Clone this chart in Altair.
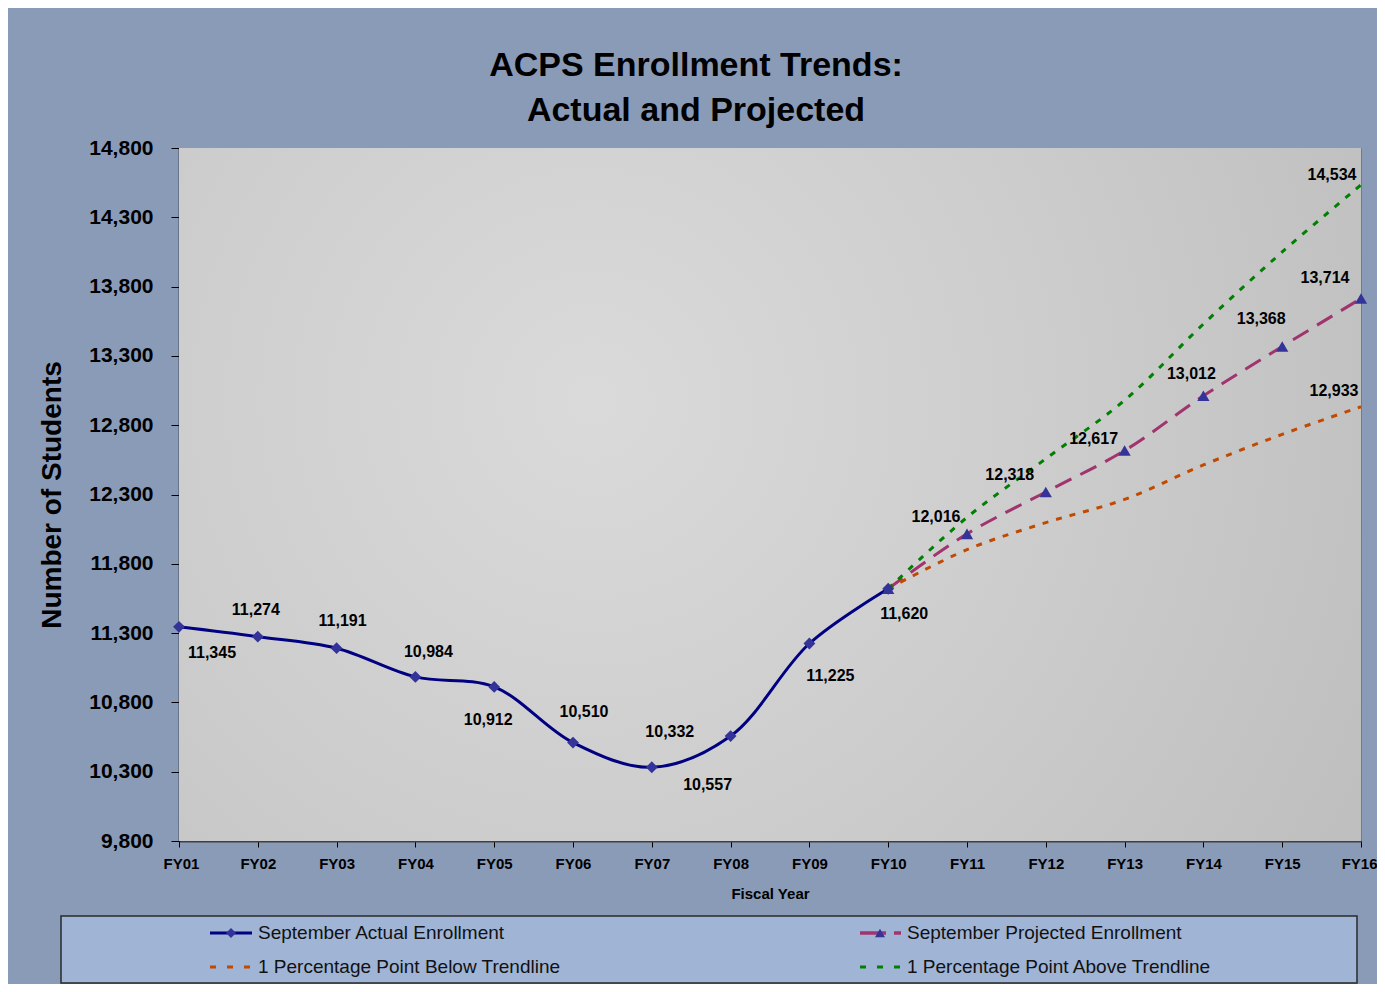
import altair as alt
import pandas as pd

# ---------------- data ----------------
years = ["FY01", "FY02", "FY03", "FY04", "FY05", "FY06", "FY07", "FY08",
         "FY09", "FY10", "FY11", "FY12", "FY13", "FY14", "FY15", "FY16"]

actual_years = years[:10]
actual = [11345, 11274, 11191, 10984, 10912, 10510, 10332, 10557, 11225, 11620]

proj_years = years[9:]
projected = [11620, 12016, 12318, 12617, 13012, 13368, 13714]
below = [11620, 11902, 12097, 12265, 12513, 12734, 12933]
above = [11620, 12135, 12558, 12980, 13530, 14050, 14534]

series_names = ["September Actual Enrollment",
                "September Projected Enrollment",
                "1 Percentage Point Below Trendline",
                "1 Percentage Point Above Trendline"]

y_ticks = [9800, 10300, 10800, 11300, 11800, 12300, 12800, 13300, 13800, 14300, 14800]

# labelled points: actual FY01-FY10, projected FY11-FY16, above & below FY16
label_years = actual_years + proj_years[1:] + [proj_years[-1], proj_years[-1]]
label_values = actual + projected[1:] + [above[-1], below[-1]]

# ---------------- styles ----------------
W, H = 1182, 693
FONT = "Liberation Sans"
C_ACTUAL = "#000080"
C_MARK = "#333399"
C_PROJ = "#A0346E"
C_BELOW = "#C04A00"
C_ABOVE = "#008000"
BG = "#8A9BB8"
LEGEND_BG = "#A0B4D6"

label_offsets = [(33, 26), (-2, -27), (6, -27), (13, -25), (-6, 33), (11, -31),
                 (18, -35), (-23, 49), (21, 33), (16, 25), (-31, -17), (-36, -17),
                 (-31, -12), (-12, -22), (-21, -27), (-36, -21), (-29, -10), (-27, -16)]

# ---------------- frames ----------------
df_actual = pd.DataFrame({"year": actual_years, "value": actual})
df_proj = pd.DataFrame({"year": proj_years, "value": projected})
df_below = pd.DataFrame({"year": proj_years, "value": below})
df_above = pd.DataFrame({"year": proj_years, "value": above})
df_labels = pd.DataFrame({"idx": list(range(len(label_years))),
                          "year": label_years, "value": label_values})
dummy = pd.DataFrame({"a": [0]})

x_enc = alt.X("year:N",
              scale=alt.Scale(domain=years, type="point", padding=0),
              axis=alt.Axis(title="Fiscal Year", labelAngle=0, labelFont=FONT,
                            labelFontSize=15, labelFontWeight="bold", labelColor="black",
                            labelPadding=9, labelFlush=True, labelFlushOffset=16,
                            tickSize=6, tickColor="black", tickWidth=1,
                            domainColor="#404040", domainWidth=2,
                            titleFont=FONT, titleFontSize=15, titleFontWeight="bold",
                            titleColor="black", titleY=52, titleBaseline="middle",
                            grid=False))
y_enc = alt.Y("value:Q",
              scale=alt.Scale(domain=[9800, 14800], nice=False, zero=False),
              axis=alt.Axis(title="Number of Students", values=y_ticks, format=",.0f",
                            labelFont=FONT, labelFontSize=21, labelFontWeight="bold",
                            labelColor="black", labelPadding=18, tickSize=8,
                            tickColor="black", domainColor="black", domainWidth=1.5,
                            titleFont=FONT, titleFontSize=28, titleFontWeight="bold",
                            titleColor="black", titleX=-127, titleY=H / 2,
                            titleBaseline="middle", titleAlign="center", titleAngle=270,
                            grid=False))

gradient = alt.RadialGradient(
    gradient="radial",
    stops=[alt.GradientStop(color="#DADADA", offset=0),
           alt.GradientStop(color="#CDCDCD", offset=0.5),
           alt.GradientStop(color="#BEBEBE", offset=1)],
    x1=0.35, y1=0.42, r1=0, x2=0.35, y2=0.42, r2=0.75)

plot_bg = alt.Chart(dummy).mark_rect(fill=gradient).encode(
    x=alt.value(0), x2=alt.value(W), y=alt.value(0), y2=alt.value(H))

line_actual = alt.Chart(df_actual).mark_line(
    color=C_ACTUAL, strokeWidth=3, interpolate="catmull-rom").encode(x=x_enc, y=y_enc)
line_proj = alt.Chart(df_proj).mark_line(
    color=C_PROJ, strokeWidth=3, strokeDash=[18, 10],
    interpolate="catmull-rom").encode(x=x_enc, y=y_enc)
line_below = alt.Chart(df_below).mark_line(
    color=C_BELOW, strokeWidth=3, strokeDash=[6, 8],
    interpolate="catmull-rom").encode(x=x_enc, y=y_enc)
line_above = alt.Chart(df_above).mark_line(
    color=C_ABOVE, strokeWidth=3, strokeDash=[6, 8],
    interpolate="catmull-rom").encode(x=x_enc, y=y_enc)

pts_actual = alt.Chart(df_actual).mark_point(
    shape="diamond", filled=True, color=C_MARK, size=140, opacity=1).encode(x=x_enc, y=y_enc)
pts_proj = alt.Chart(df_proj).mark_point(
    shape="triangle-up", filled=True, color=C_MARK, size=150, opacity=1).encode(x=x_enc, y=y_enc)

label_layers = []
for i, (dx, dy) in enumerate(label_offsets):
    label_layers.append(
        alt.Chart(df_labels).transform_filter(alt.datum.idx == i).mark_text(
            font=FONT, fontSize=16, fontWeight="bold", color="black",
            dx=dx, dy=dy, align="center", baseline="middle").encode(
            x=x_enc, y=y_enc, text=alt.Text("value:Q", format=",.0f")))

# ---------------- legend (drawn below the plot) ----------------
LX0, LX1, LY0, LY1 = -118, 1178, 768, 835
ROW1, ROW2 = 785, 819
C1A, C1B, C1M, C1T = 31, 73, 52, 79
C2A, C2B, C2M, C2T = 681, 722, 701, 728

legend_layers = [
    alt.Chart(dummy).mark_rect(fill=LEGEND_BG, stroke="#2A2A2A", strokeWidth=1.5).encode(
        x=alt.value(LX0), x2=alt.value(LX1), y=alt.value(LY0), y2=alt.value(LY1)),
    # actual
    alt.Chart(dummy).mark_rule(color=C_ACTUAL, strokeWidth=3).encode(
        x=alt.value(C1A), x2=alt.value(C1B), y=alt.value(ROW1)),
    alt.Chart(dummy).mark_point(shape="diamond", filled=True, color=C_MARK, size=100,
                                opacity=1).encode(x=alt.value(C1M), y=alt.value(ROW1)),
    # projected
    alt.Chart(dummy).mark_rule(color=C_PROJ, strokeWidth=3.5, strokeDash=[26, 8]).encode(
        x=alt.value(C2A), x2=alt.value(C2B), y=alt.value(ROW1)),
    alt.Chart(dummy).mark_point(shape="triangle-up", filled=True, color=C_MARK, size=100,
                                opacity=1).encode(x=alt.value(C2M), y=alt.value(ROW1)),
    # below
    alt.Chart(dummy).mark_rule(color=C_BELOW, strokeWidth=3, strokeDash=[6, 11]).encode(
        x=alt.value(C1A), x2=alt.value(C1B), y=alt.value(ROW2)),
    # above
    alt.Chart(dummy).mark_rule(color=C_ABOVE, strokeWidth=3, strokeDash=[6, 11]).encode(
        x=alt.value(C2A), x2=alt.value(C2B), y=alt.value(ROW2)),
]
for name, tx, ty in [(series_names[0], C1T, ROW1), (series_names[1], C2T, ROW1),
                     (series_names[2], C1T, ROW2), (series_names[3], C2T, ROW2)]:
    legend_layers.append(
        alt.Chart(dummy).mark_text(font=FONT, fontSize=19, color="#111111",
                                   align="left", baseline="middle", text=name).encode(
            x=alt.value(tx), y=alt.value(ty)))

chart = alt.layer(
    plot_bg, line_actual, line_proj, line_below, line_above, pts_actual, pts_proj,
    *label_layers, *legend_layers
).properties(
    width=W, height=H,
    title=alt.Title(text=["ACPS Enrollment Trends:", "Actual and Projected"],
                    font=FONT, fontSize=34, fontWeight="bold", color="black",
                    anchor="middle", dx=-74, offset=9, lineHeight=45),
    autosize=alt.AutoSizeParams(type="none"),
    padding={"left": 171, "top": 140, "right": 16, "bottom": 143},
).configure(
    background=BG,
).configure_view(
    stroke="#7A7A7A", strokeWidth=1,
)

chart.save("out.html", embed_options={"renderer": "svg", "actions": False})
